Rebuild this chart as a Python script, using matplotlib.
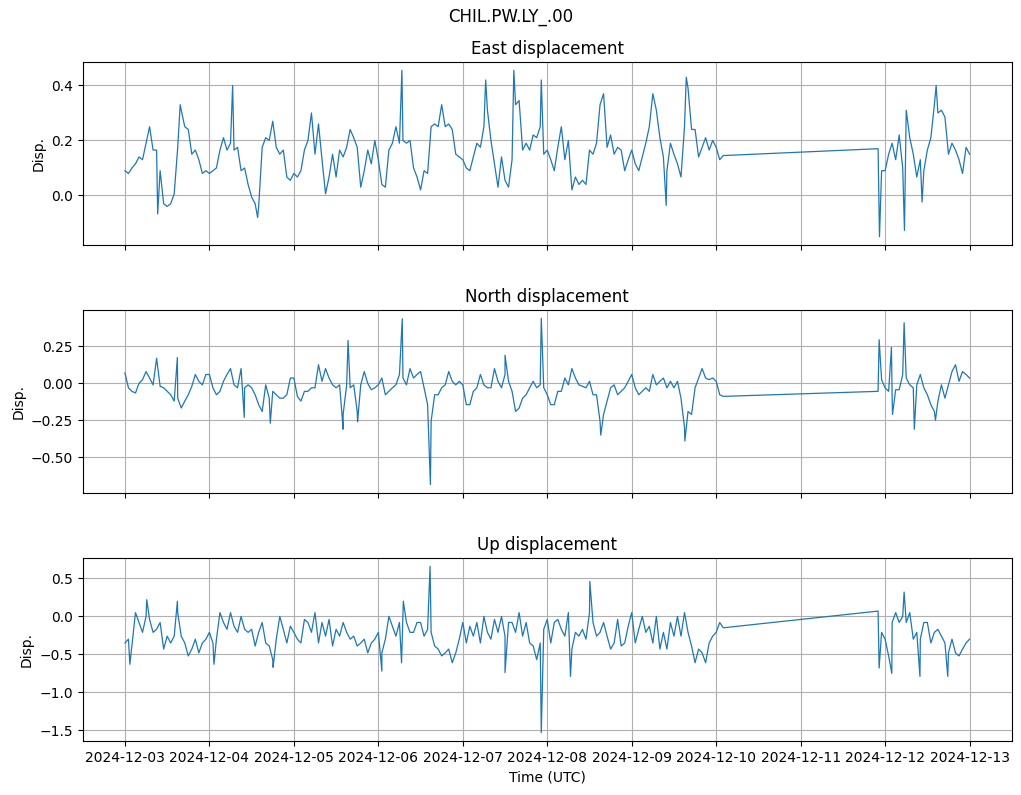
import numpy as np
import matplotlib
matplotlib.use('Agg')
import matplotlib.pyplot as plt
import matplotlib.dates as mdates

station = 'CHIL.PW.LY_.00'
start = np.datetime64('2024-12-03T00:00')

# hourly readings (hours since start), two segments with a data gap
hours = list(range(0, 171)) + list(range(214, 241))

east = [0.09, 0.08, 0.10, 0.115, 0.14, 0.13, 0.19, 0.25, 0.165, 0.165, 0.09, -0.03,
        -0.04, -0.03, 0.006, 0.175, 0.31, 0.25, 0.24, 0.15, 0.165, 0.13, 0.08, 0.09,
        0.08, 0.09, 0.10, 0.165, 0.21, 0.165, 0.19, 0.165, 0.175, 0.09, 0.10, 0.04,
        -0.006, -0.03, -0.04, 0.175, 0.21, 0.2, 0.27, 0.175, 0.15, 0.165, 0.067, 0.055,
        0.08, 0.067, 0.09, 0.165, 0.2, 0.30, 0.15, 0.26, 0.13, 0.006, 0.067, 0.15,
        0.067, 0.165, 0.14, 0.175, 0.24, 0.21, 0.175, 0.03, 0.09, 0.165, 0.115, 0.2,
        0.13, 0.04, 0.03, 0.165, 0.19, 0.25, 0.19, 0.2, 0.19, 0.2, 0.10, 0.067,
        0.02, 0.09, 0.08, 0.25, 0.26, 0.25, 0.33, 0.25, 0.26, 0.24, 0.15, 0.14,
        0.13, 0.10, 0.09, 0.14, 0.19, 0.175, 0.25, 0.31, 0.2, 0.115, 0.03, 0.14,
        0.055, 0.03, 0.13, 0.33, 0.345, 0.165, 0.19, 0.165, 0.22, 0.21, 0.25, 0.15,
        0.165, 0.13, 0.09, 0.175, 0.25, 0.13, 0.2, 0.02, 0.067, 0.04, 0.055, 0.04,
        0.165, 0.15, 0.19, 0.33, 0.37, 0.175, 0.22, 0.15, 0.175, 0.165, 0.09, 0.13,
        0.165, 0.115, 0.09, 0.14, 0.19, 0.25, 0.37, 0.31, 0.21, 0.14, 0.09, 0.19,
        0.15, 0.115, 0.067, 0.25, 0.39, 0.24, 0.24, 0.14, 0.175, 0.21, 0.165, 0.2,
        0.175, 0.13, 0.145,
        0.17, 0.09, 0.09, 0.15, 0.19, 0.13, 0.22, 0.10, 0.31, 0.21, 0.15, 0.067,
        0.13, 0.09, 0.165, 0.21, 0.33, 0.30, 0.31, 0.285, 0.15, 0.19, 0.165, 0.13,
        0.08, 0.175, 0.15]

north = [0.07, -0.03, -0.054, -0.065, 0.0, 0.025, 0.08, 0.036, -0.01, 0.17, -0.02, -0.03,
         -0.054, -0.077, -0.12, -0.1, -0.167, -0.12, -0.077, -0.02, 0.06, 0.014, -0.01, 0.06,
         0.06, -0.03, -0.077, -0.054, 0.014, 0.06, 0.1, -0.01, -0.03, 0.1, -0.03, -0.01,
         -0.03, -0.077, -0.144, -0.19, -0.01, -0.1, -0.054, -0.077, -0.1, -0.1, -0.077, 0.036,
         0.036, -0.088, -0.12, -0.054, -0.054, -0.03, -0.03, 0.126, 0.014, 0.1, 0.036, -0.01,
         -0.03, -0.01, -0.21, -0.01, -0.03, -0.01, -0.19, -0.01, 0.08, 0.0, -0.043, -0.03,
         -0.01, 0.036, -0.077, -0.054, -0.03, -0.01, 0.06, 0.036, -0.01, 0.1, 0.036, 0.06,
         0.08, -0.03, -0.144, -0.257, -0.077, -0.077, -0.03, -0.01, 0.08, 0.014, -0.01, 0.014,
         -0.01, -0.144, -0.144, -0.054, -0.03, 0.06, -0.01, -0.03, -0.03, 0.1, 0.014, -0.03,
         0.06, 0.014, -0.054, -0.19, -0.167, -0.1, -0.077, -0.03, 0.014, -0.03, -0.01, -0.03,
         -0.077, -0.144, -0.144, -0.054, -0.054, 0.036, -0.01, 0.1, 0.036, -0.01, -0.02, -0.03,
         0.014, -0.077, -0.077, -0.257, -0.21, -0.12, -0.03, -0.01, -0.077, -0.054, -0.03, 0.014,
         0.06, -0.03, -0.077, -0.054, -0.03, -0.054, 0.06, -0.01, 0.014, 0.036, -0.03, 0.014,
         -0.03, 0.014, -0.1, -0.3, -0.19, -0.21, -0.03, 0.036, 0.1, 0.036, 0.025, 0.036,
         0.014, -0.077, -0.088,
         -0.054, 0.025, -0.03, -0.054, -0.1, -0.043, -0.043, 0.06, 0.036, -0.01, -0.03, -0.01,
         0.06, -0.03, -0.077, -0.144, -0.19, -0.12, -0.01, -0.1, -0.01, 0.08, 0.126, 0.014,
         0.08, 0.06, 0.036]

up = [-0.35, -0.30, -0.37, 0.05, -0.08, -0.21, 0.0, -0.04, -0.21, -0.17, -0.08, -0.43,
      -0.26, -0.35, -0.26, 0.05, -0.26, -0.35, -0.52, -0.43, -0.30, -0.48, -0.35, -0.30,
      -0.21, -0.35, -0.30, 0.05, -0.08, -0.17, 0.05, -0.13, -0.21, 0.0, -0.17, -0.21,
      -0.17, -0.39, -0.21, -0.08, -0.35, -0.39, -0.57, -0.30, 0.0, -0.17, -0.35, -0.13,
      -0.21, -0.30, -0.35, -0.04, -0.08, -0.21, 0.05, -0.35, -0.08, -0.26, -0.04, -0.39,
      -0.17, -0.26, -0.08, -0.21, -0.30, -0.26, -0.39, -0.35, -0.30, -0.48, -0.35, -0.30,
      -0.21, -0.48, -0.30, 0.0, -0.13, -0.26, -0.08, 0.05, -0.08, -0.21, -0.21, -0.08,
      -0.08, -0.26, -0.17, -0.21, -0.39, -0.43, -0.52, -0.48, -0.43, -0.61, -0.48, -0.30,
      -0.08, -0.35, -0.13, -0.26, -0.08, -0.35, 0.0, -0.21, -0.30, -0.04, -0.21, 0.0,
      -0.26, -0.08, -0.08, -0.21, 0.05, -0.26, -0.08, -0.35, -0.39, -0.57, -0.35, -0.17,
      -0.04, -0.35, -0.08, -0.04, -0.17, -0.26, 0.05, -0.43, -0.21, -0.26, -0.17, -0.30,
      0.05, -0.08, -0.26, -0.21, -0.08, -0.26, -0.43, -0.35, -0.04, -0.39, -0.35, -0.13,
      0.05, -0.35, -0.17, 0.0, -0.21, -0.13, -0.35, 0.0, -0.43, -0.21, -0.43, -0.08,
      -0.26, 0.0, -0.26, 0.05, -0.21, -0.39, -0.61, -0.43, -0.48, -0.61, -0.35, -0.26,
      -0.21, -0.08, -0.15,
      0.07, -0.21, -0.30, -0.52, -0.08, 0.05, -0.08, 0.0, -0.08, 0.05, -0.30, -0.21,
      -0.30, -0.08, -0.08, -0.35, -0.21, -0.17, -0.26, -0.35, -0.48, -0.30, -0.48, -0.52,
      -0.43, -0.35, -0.30]

# short spikes between the hourly readings (hour, value)
east_spikes = [(9.3, -0.067), (15.7, 0.33), (30.6, 0.40), (37.7, -0.08), (78.7, 0.455),
               (102.5, 0.42), (110.5, 0.455), (118.3, 0.42), (153.8, -0.036), (159.5, 0.43),
               (214.4, -0.15), (221.5, -0.127), (226.5, -0.024), (230.5, 0.40)]
north_spikes = [(14.9, 0.175), (33.9, -0.23), (41.3, -0.27), (62.0, -0.31), (63.4, 0.29),
                (66.1, -0.26), (78.8, 0.437), (86.8, -0.685), (108.0, 0.19), (118.3, 0.44),
                (135.2, -0.35), (159.1, -0.39), (214.3, 0.295), (217.8, 0.243), (218.1, -0.21),
                (221.4, 0.41), (224.3, -0.31), (230.3, -0.25)]
up_spikes = [(1.4, -0.63), (6.2, 0.22), (14.9, 0.2), (25.3, -0.63), (42.1, -0.67),
             (73.0, -0.72), (78.6, -0.61), (79.1, 0.2), (86.7, 0.66), (108.0, -0.74),
             (118.3, -1.53), (126.6, -0.79), (132.1, 0.46), (214.3, -0.68), (217.9, -0.75),
             (221.4, 0.32), (225.9, -0.79), (233.8, -0.79)]

titles = ['East displacement', 'North displacement', 'Up displacement']


def merge(vals, spikes):
    h = np.array(hours + [s[0] for s in spikes], dtype=float)
    v = np.array(vals + [s[1] for s in spikes])
    idx = np.argsort(h)
    t = start + (h[idx] * 60).round().astype('timedelta64[m]')
    return t, v[idx]


fig, axs = plt.subplots(3, 1, figsize=(10.21, 7.95), dpi=100, sharex=True)
fig.subplots_adjust(left=0.081, right=0.991, bottom=0.068, top=0.922, hspace=0.355)
fig.suptitle(station, fontsize=12, y=0.99)

for ax, vals, spikes, ttl in zip(axs, [east, north, up],
                                 [east_spikes, north_spikes, up_spikes], titles):
    t, v = merge(vals, spikes)
    ax.plot(t, v, color='#1f77b4', lw=0.9)
    ax.set_title(ttl)
    ax.set_ylabel('Disp.')
    ax.grid(True)

axs[2].xaxis.set_major_locator(mdates.DayLocator())
axs[2].xaxis.set_major_formatter(mdates.DateFormatter('%Y-%m-%d'))
axs[2].set_xlabel('Time (UTC)')

fig.savefig('out.png', dpi=100)
